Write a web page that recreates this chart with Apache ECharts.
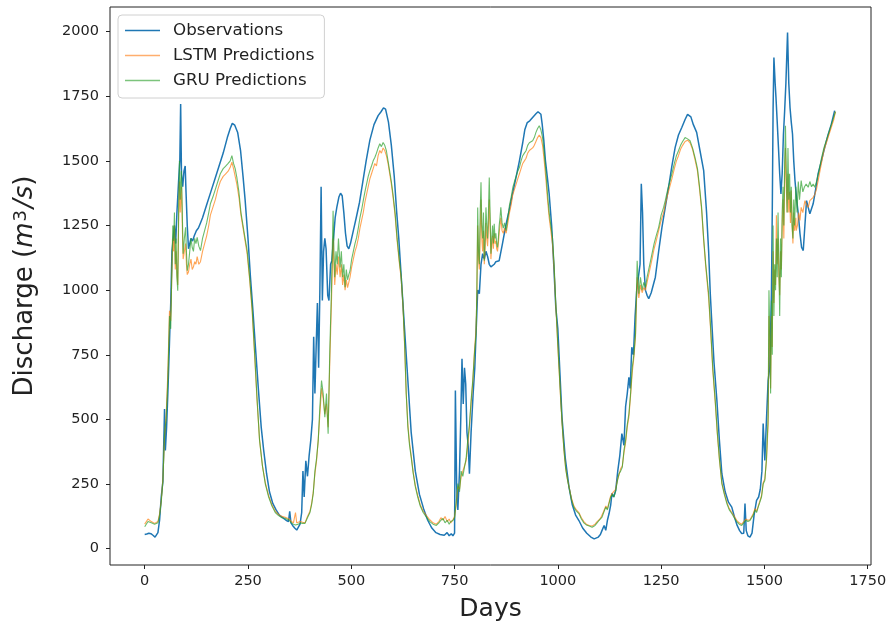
<!DOCTYPE html>
<html>
<head>
<meta charset="utf-8">
<script src="https://cdn.jsdelivr.net/npm/echarts@6/dist/echarts.min.js"></script>
<style>html,body{margin:0;padding:0;background:#fff}#c{width:891px;height:626px}</style>
</head>
<body>
<div id="c"></div>
<script>
const xTicks = [0, 250, 500, 750, 1000, 1250, 1500, 1750];
const yTicks = [0, 250, 500, 750, 1000, 1250, 1500, 1750, 2000];
const seriesNames = ['Observations', 'LSTM Predictions', 'GRU Predictions'];

// [day, discharge]
const observed = [[0,55],[5,57],[10,60],[15,58],[20,52],[25,45],[28,42],[32,62],[36,110],[40,200],[44,260],[48,540],[50,380],[53,470],[56,600],[60,800],[63,950],[66,1150],[69,1200],[72,1250],[75,1180],[78,1300],[82,1420],[85,1500],[87,1720],[89,1450],[92,1400],[95,1460],[98,1480],[100,1380],[103,1250],[106,1160],[109,1180],[112,1200],[116,1190],[120,1210],[125,1230],[130,1240],[135,1260],[140,1280],[150,1330],[160,1380],[170,1430],[180,1480],[190,1530],[200,1590],[207,1625],[212,1645],[218,1638],[225,1610],[232,1540],[238,1440],[243,1350],[250,1200],[256,1050],[262,920],[268,780],[275,620],[282,470],[288,380],[295,290],[302,220],[310,175],[318,150],[326,130],[334,120],[342,110],[348,105],[351,145],[354,100],[358,90],[363,80],[368,72],[372,75],[376,95],[380,140],[383,300],[386,200],[390,340],[394,280],[398,360],[402,420],[406,500],[409,820],[412,600],[415,780],[418,950],[421,700],[424,1000],[427,1400],[430,960],[433,1150],[436,1200],[439,1160],[443,980],[446,960],[450,1100],[453,1114],[457,1200],[461,1280],[465,1320],[470,1360],[474,1375],[478,1365],[482,1300],[486,1220],[490,1170],[494,1160],[498,1180],[505,1230],[512,1280],[520,1340],[528,1420],[536,1500],[545,1580],[555,1640],[565,1675],[572,1690],[578,1705],[583,1700],[590,1650],[597,1560],[604,1440],[610,1300],[615,1200],[625,950],[635,700],[645,450],[655,300],[665,210],[675,155],[685,110],[695,80],[705,62],[715,55],[725,52],[732,62],[737,50],[742,58],[746,50],[750,60],[752,612],[755,250],[758,150],[762,300],[765,500],[768,735],[771,560],[774,700],[777,638],[780,450],[783,400],[786,290],[790,450],[795,600],[799,700],[802,831],[806,1000],[810,986],[814,1100],[818,1141],[822,1120],[826,1150],[830,1130],[834,1100],[838,1090],[842,1088],[846,1100],[850,1110],[858,1114],[866,1180],[874,1250],[882,1307],[890,1370],[898,1430],[907,1500],[915,1570],[920,1620],[926,1648],[932,1655],[940,1670],[947,1682],[952,1690],[955,1694],[959,1680],[962,1643],[966,1580],[970,1500],[975,1430],[979,1372],[985,1250],[990,1100],[995,934],[1000,850],[1005,680],[1010,509],[1018,350],[1027,238],[1035,170],[1043,130],[1051,109],[1060,80],[1070,60],[1080,45],[1088,38],[1092,40],[1098,45],[1103,55],[1107,71],[1112,90],[1116,71],[1120,110],[1124,136],[1128,170],[1131,214],[1135,200],[1140,225],[1145,300],[1150,360],[1155,445],[1160,400],[1164,550],[1168,600],[1172,663],[1175,620],[1179,779],[1183,750],[1187,900],[1191,1000],[1195,1050],[1199,1100],[1202,1411],[1205,1300],[1208,1100],[1212,1000],[1216,980],[1220,967],[1226,990],[1231,1020],[1236,1050],[1244,1150],[1252,1243],[1260,1320],[1268,1397],[1276,1480],[1284,1552],[1292,1600],[1300,1629],[1308,1660],[1314,1680],[1318,1687],[1322,1670],[1328,1640],[1336,1610],[1344,1540],[1353,1462],[1360,1300],[1365,1150],[1369,986],[1372,895],[1378,720],[1385,573],[1391,420],[1397,290],[1405,220],[1413,180],[1421,161],[1428,120],[1434,90],[1440,70],[1445,59],[1450,60],[1453,175],[1456,70],[1460,50],[1465,45],[1470,60],[1475,130],[1481,187],[1486,200],[1490,230],[1494,300],[1497,484],[1501,341],[1505,500],[1509,650],[1513,702],[1517,986],[1519,1300],[1521,1700],[1523,1900],[1526,1800],[1528,1745],[1531,1650],[1534,1552],[1537,1450],[1540,1372],[1543,1450],[1546,1600],[1549,1694],[1552,1800],[1556,1996],[1559,1800],[1562,1706],[1565,1650],[1568,1604],[1571,1500],[1574,1424],[1578,1350],[1582,1295],[1586,1220],[1590,1165],[1594,1153],[1598,1250],[1602,1346],[1606,1320],[1610,1295],[1614,1300],[1618,1334],[1624,1390],[1630,1450],[1638,1500],[1646,1552],[1654,1600],[1662,1642],[1670,1694]];

const lstm = [[0,95],[4,100],[8,115],[12,112],[16,105],[20,100],[24,98],[28,92],[32,105],[36,135],[40,185],[44,270],[48,430],[52,520],[56,680],[60,920],[63,880],[66,1080],[68,1200],[70,1150],[72,1250],[74,1080],[76,1150],[78,1060],[80,1020],[82,1250],[84,1420],[86,1300],[89,1400],[91,1250],[93,1120],[96,1150],[99,1180],[101,1100],[103,1060],[106,1070],[109,1100],[112,1120],[115,1080],[118,1090],[121,1110],[124,1100],[127,1130],[131,1100],[135,1110],[140,1150],[145,1180],[150,1210],[155,1250],[159,1290],[165,1320],[171,1350],[177,1390],[183,1420],[190,1440],[196,1450],[202,1460],[207,1475],[211,1495],[215,1470],[219,1440],[223,1410],[228,1360],[233,1290],[238,1240],[243,1190],[248,1140],[254,1040],[260,920],[266,750],[272,570],[278,420],[285,320],[292,255],[300,205],[308,170],[316,145],[324,132],[332,125],[340,122],[344,120],[350,115],[355,105],[360,100],[365,140],[368,100],[372,98],[377,105],[382,102],[388,100],[394,125],[400,145],[404,175],[408,220],[412,290],[416,340],[420,420],[424,520],[428,620],[432,580],[436,520],[440,560],[444,470],[448,720],[452,950],[456,1200],[458,1100],[460,1020],[463,1100],[466,1060],[469,1130],[473,1050],[476,1100],[479,1020],[482,1060],[485,1000],[488,1040],[491,1010],[494,1030],[497,1050],[501,1090],[505,1120],[509,1150],[513,1170],[517,1200],[521,1240],[525,1270],[529,1300],[533,1340],[537,1370],[541,1400],[545,1430],[549,1450],[553,1470],[557,1490],[561,1480],[565,1520],[569,1540],[573,1530],[577,1550],[581,1540],[585,1520],[589,1490],[593,1450],[597,1410],[601,1360],[606,1290],[611,1190],[616,1110],[621,1040],[625,940],[629,790],[633,600],[637,480],[641,410],[645,360],[650,295],[655,245],[661,205],[667,170],[674,145],[682,128],[690,112],[698,100],[706,95],[712,105],[717,120],[722,110],[727,125],[732,105],[737,115],[741,100],[746,112],[750,125],[754,170],[758,240],[762,230],[766,280],[770,300],[774,320],[778,340],[782,400],[786,470],[790,560],[794,640],[798,760],[802,850],[804,980],[806,1250],[808,1120],[810,1080],[812,1220],[814,1350],[816,1200],[818,1150],[820,1230],[822,1100],[824,1160],[826,1260],[828,1200],[830,1170],[832,1240],[834,1350],[836,1250],[838,1120],[840,1170],[842,1210],[844,1160],[846,1220],[848,1180],[850,1190],[852,1160],[854,1150],[856,1180],[858,1220],[860,1250],[862,1280],[865,1230],[868,1220],[871,1240],[875,1220],[879,1260],[883,1300],[887,1330],[891,1370],[895,1390],[899,1410],[903,1430],[907,1450],[911,1470],[915,1490],[919,1500],[923,1510],[927,1530],[931,1540],[935,1545],[939,1550],[943,1560],[947,1575],[951,1590],[955,1600],[959,1590],[963,1560],[967,1500],[971,1430],[975,1350],[979,1280],[983,1230],[987,1180],[991,1080],[995,940],[999,810],[1003,690],[1007,570],[1011,465],[1015,375],[1019,310],[1023,270],[1027,240],[1033,195],[1039,165],[1045,150],[1051,140],[1057,120],[1063,105],[1069,95],[1076,90],[1083,88],[1090,95],[1095,105],[1100,112],[1104,120],[1107,125],[1111,145],[1116,165],[1120,155],[1124,180],[1128,205],[1132,215],[1136,210],[1140,230],[1144,265],[1148,285],[1152,310],[1156,320],[1160,370],[1164,410],[1168,470],[1172,510],[1176,590],[1180,680],[1184,740],[1188,820],[1192,1050],[1196,970],[1200,1020],[1204,990],[1208,1010],[1212,1000],[1216,1030],[1220,1060],[1224,1090],[1228,1120],[1233,1160],[1238,1190],[1244,1230],[1250,1270],[1256,1300],[1260,1330],[1266,1370],[1271,1400],[1276,1430],[1282,1470],[1287,1500],[1292,1520],[1297,1545],[1302,1560],[1308,1575],[1314,1580],[1320,1570],[1326,1545],[1332,1505],[1338,1460],[1343,1390],[1348,1310],[1353,1190],[1358,1090],[1365,970],[1370,840],[1375,690],[1381,565],[1386,445],[1391,345],[1397,255],[1403,215],[1409,180],[1415,155],[1421,140],[1427,125],[1433,110],[1439,100],[1445,95],[1450,105],[1455,115],[1460,110],[1465,112],[1469,115],[1473,135],[1477,155],[1481,145],[1485,165],[1489,185],[1493,205],[1497,255],[1501,270],[1505,340],[1509,480],[1511,900],[1513,800],[1515,620],[1517,900],[1519,780],[1521,1150],[1523,950],[1525,1080],[1527,1020],[1529,1290],[1531,1100],[1533,1200],[1535,1050],[1537,980],[1539,1150],[1541,1080],[1543,1250],[1545,1350],[1547,1200],[1549,1420],[1551,1550],[1553,1400],[1555,1300],[1557,1450],[1559,1300],[1561,1380],[1563,1260],[1565,1385],[1567,1250],[1569,1180],[1571,1300],[1573,1230],[1576,1280],[1577,1230],[1580,1250],[1583,1300],[1586,1270],[1589,1320],[1593,1300],[1598,1346],[1602,1330],[1606,1320],[1610,1346],[1614,1340],[1618,1359],[1622,1370],[1626,1390],[1632,1440],[1638,1490],[1644,1540],[1650,1570],[1656,1600],[1662,1630],[1668,1660],[1672,1690]];

const gru = [[0,85],[4,90],[8,105],[12,110],[16,100],[20,98],[24,95],[28,88],[32,100],[36,130],[40,180],[44,260],[48,445],[52,500],[56,650],[60,900],[63,850],[66,1100],[68,1250],[70,1191],[72,1300],[74,1100],[76,1200],[78,1050],[80,998],[82,1300],[84,1500],[86,1350],[89,1462],[91,1300],[93,1141],[96,1200],[99,1243],[101,1150],[103,1075],[106,1100],[109,1150],[112,1200],[115,1165],[118,1150],[121,1200],[124,1180],[127,1204],[131,1170],[135,1153],[140,1200],[145,1230],[150,1260],[155,1300],[159,1334],[165,1360],[171,1390],[177,1420],[183,1450],[190,1470],[196,1480],[202,1490],[207,1500],[211,1520],[215,1490],[219,1470],[223,1436],[228,1380],[233,1300],[238,1250],[243,1200],[248,1153],[254,1050],[260,934],[266,760],[272,580],[278,420],[285,320],[292,250],[300,200],[308,165],[316,140],[324,128],[332,120],[340,118],[344,117],[350,110],[355,100],[360,95],[365,92],[368,90],[372,95],[377,100],[382,98],[388,98],[394,120],[400,140],[404,170],[408,214],[412,300],[416,350],[420,418],[424,550],[428,650],[432,600],[436,509],[440,600],[444,445],[448,766],[452,1000],[456,1307],[458,1150],[460,1050],[463,1150],[466,1100],[469,1200],[473,1088],[476,1150],[479,1050],[482,1100],[485,1011],[488,1080],[491,1040],[494,1060],[497,1075],[501,1120],[505,1150],[509,1180],[513,1204],[517,1240],[521,1280],[525,1310],[529,1346],[533,1380],[537,1410],[541,1440],[545,1462],[549,1480],[553,1500],[557,1513],[561,1530],[565,1550],[569,1566],[573,1555],[577,1571],[581,1560],[585,1539],[589,1500],[593,1460],[597,1420],[601,1372],[606,1300],[611,1200],[616,1120],[621,1050],[625,950],[629,800],[633,600],[637,470],[641,400],[645,354],[650,290],[655,240],[661,199],[667,165],[674,140],[682,122],[690,105],[698,95],[706,90],[712,100],[717,110],[722,117],[727,100],[732,110],[737,95],[741,105],[746,109],[750,120],[754,180],[758,252],[762,220],[766,300],[770,280],[774,315],[778,350],[782,420],[786,480],[790,573],[794,650],[798,750],[802,831],[804,1000],[806,1320],[808,1150],[810,1100],[812,1300],[814,1417],[816,1250],[818,1200],[820,1300],[822,1114],[824,1200],[826,1320],[828,1250],[830,1200],[832,1300],[834,1436],[836,1300],[838,1141],[840,1200],[842,1250],[844,1180],[846,1257],[848,1200],[850,1220],[852,1180],[854,1165],[856,1200],[858,1250],[860,1280],[862,1320],[865,1260],[868,1240],[871,1260],[875,1230],[879,1280],[883,1330],[887,1360],[891,1397],[895,1420],[899,1440],[903,1460],[907,1475],[911,1500],[915,1520],[919,1530],[923,1539],[927,1560],[931,1570],[935,1575],[939,1578],[943,1590],[947,1610],[951,1625],[955,1636],[959,1620],[963,1590],[967,1530],[971,1460],[975,1372],[979,1300],[983,1250],[987,1204],[991,1100],[995,950],[999,820],[1003,700],[1007,580],[1011,470],[1015,380],[1019,310],[1023,270],[1027,238],[1033,190],[1039,160],[1045,145],[1051,136],[1057,115],[1063,100],[1069,92],[1076,88],[1083,83],[1090,90],[1095,100],[1100,110],[1104,115],[1107,122],[1111,140],[1116,161],[1120,150],[1124,175],[1128,200],[1132,210],[1136,200],[1140,225],[1144,260],[1148,290],[1152,300],[1156,315],[1160,380],[1164,420],[1168,480],[1172,522],[1176,600],[1180,700],[1184,750],[1188,831],[1192,1114],[1196,986],[1200,1050],[1204,1000],[1208,1030],[1212,1011],[1216,1050],[1220,1080],[1224,1110],[1228,1141],[1233,1180],[1238,1210],[1244,1243],[1250,1290],[1256,1320],[1260,1346],[1266,1390],[1271,1420],[1276,1450],[1282,1490],[1287,1520],[1292,1539],[1297,1560],[1302,1575],[1308,1590],[1314,1585],[1320,1578],[1326,1550],[1332,1513],[1338,1470],[1343,1400],[1348,1320],[1353,1200],[1358,1100],[1365,986],[1370,850],[1375,700],[1381,573],[1386,450],[1391,350],[1397,252],[1403,210],[1409,175],[1415,150],[1421,136],[1427,120],[1433,105],[1439,95],[1445,90],[1450,100],[1455,110],[1460,105],[1465,109],[1469,110],[1473,130],[1477,150],[1481,140],[1485,161],[1489,180],[1493,200],[1497,250],[1501,264],[1505,350],[1509,509],[1511,1000],[1513,831],[1515,600],[1517,960],[1519,750],[1521,1250],[1523,900],[1525,1100],[1527,1000],[1529,1200],[1531,1050],[1533,1300],[1535,1100],[1537,900],[1539,1200],[1541,1050],[1543,1300],[1545,1400],[1547,1250],[1549,1500],[1551,1636],[1553,1450],[1555,1300],[1557,1550],[1559,1350],[1561,1450],[1563,1300],[1565,1400],[1567,1250],[1569,1200],[1571,1350],[1573,1250],[1576,1400],[1579,1300],[1582,1420],[1585,1350],[1589,1424],[1593,1380],[1597,1400],[1601,1410],[1606,1398],[1610,1420],[1614,1400],[1618,1410],[1622,1398],[1626,1420],[1632,1460],[1638,1510],[1644,1550],[1650,1580],[1656,1610],[1662,1640],[1668,1670],[1672,1690]];

const chart = echarts.init(document.getElementById('c'), null, {renderer: 'canvas'});
const FONT = 'DejaVu Sans';
const axisCol = '#222';
const plain = v => String(v);
chart.setOption({
  animation: false,
  backgroundColor: '#fff',
  textStyle: {fontFamily: FONT},
  grid: {left: 110, right: 20, top: 7, bottom: 61, containLabel: false, outerBoundsMode: 'none',
         show: true, borderColor: axisCol, borderWidth: 1, backgroundColor: 'transparent'},
  legend: {
    orient: 'vertical', left: 118, top: 15,
    data: seriesNames.map(n => ({name: n})),
    icon: 'rect', itemWidth: 35, itemHeight: 1.6, itemGap: 8,
    padding: [7, 10, 9, 7],
    backgroundColor: 'rgba(255,255,255,0.85)', borderColor: '#d0d0d0', borderWidth: 1, borderRadius: 4,
    textStyle: {fontFamily: FONT, fontSize: 16.7, color: '#222', padding: [0, 0, 0, 8]}
  },
  xAxis: {
    type: 'value', min: -84, max: 1758,
    name: 'Days', nameLocation: 'middle', nameGap: 32,
    nameTextStyle: {fontFamily: FONT, fontSize: 25, color: '#222'},
    axisLine: {show: false, onZero: false},
    axisTick: {show: true, customValues: xTicks, length: 4, lineStyle: {color: axisCol}},
    axisLabel: {customValues: xTicks, formatter: plain, fontSize: 14.5, color: '#222', margin: 9, fontFamily: FONT},
    splitLine: {show: false}
  },
  yAxis: {
    type: 'value', min: -63, max: 2095,
    name: '{n|Discharge (}{i|m}{s|3}{i|/s}{n|)}', nameLocation: 'middle', nameGap: 71, nameRotate: 90,
    nameTextStyle: {
      fontFamily: FONT, fontSize: 26, color: '#222',
      rich: {
        n: {fontFamily: FONT, fontSize: 26, color: '#222'},
        i: {fontFamily: FONT, fontSize: 26, fontStyle: 'italic', color: '#222'},
        s: {fontFamily: FONT, fontSize: 18, color: '#222', verticalAlign: 'top', padding: [0, 2, 9, 1]}
      }
    },
    axisLine: {show: false, onZero: false},
    axisTick: {show: true, customValues: yTicks, length: 4, lineStyle: {color: axisCol}},
    axisLabel: {customValues: yTicks, formatter: plain, fontSize: 14.5, color: '#222', margin: 11, fontFamily: FONT},
    splitLine: {show: false}
  },
  series: [
    {name: seriesNames[0], type: 'line', data: observed, showSymbol: false, symbol: 'none',
     lineStyle: {color: '#1f77b4', width: 1.5}, itemStyle: {color: '#1f77b4'}},
    {name: seriesNames[1], type: 'line', data: lstm, showSymbol: false, symbol: 'none',
     lineStyle: {color: '#ff7f0e', width: 1.1, opacity: 0.7}, itemStyle: {color: '#ffae6e'}},
    {name: seriesNames[2], type: 'line', data: gru, showSymbol: false, symbol: 'none',
     lineStyle: {color: '#2ca02c', width: 1.1, opacity: 0.7}, itemStyle: {color: '#7cc47c'}}
  ]
});
</script>
</body>
</html>
